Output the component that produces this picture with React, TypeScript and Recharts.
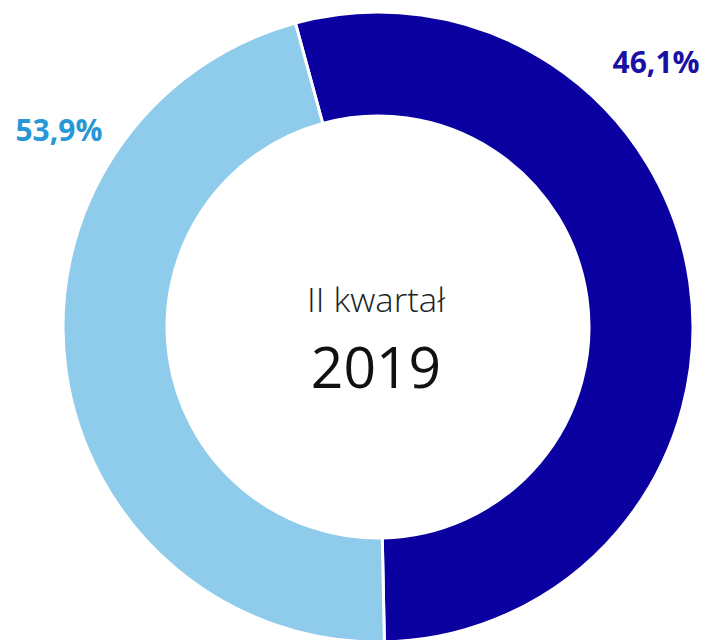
import React from "react";
import { PieChart, Pie, Cell, Customized } from "recharts";

// Data (arc sizes) and its printed labels
const segments = ["Ciemny", "Jasny"];
const shares = [53.9, 46.1];
const labelTexts = ["46,1%", "53,9%"];
const sliceColors = ["#0b00a0", "#8fcbeb"];
const labelColors = ["#1a10a4", "#2896d7"];
const centerTitle = "II kwartał";
const centerYear = "2019";

const data = segments.map((name, i) => ({ name, value: shares[i], label: labelTexts[i] }));

const W = 707;
const H = 640;
const CX = 378;
const CY = 327;
const START = 105.2;
const labelAngles = [43.6, 148.3];
const labelRadius = [384, 375];

const FONT = "'Open Sans', 'Noto Sans', sans-serif";

const renderLabel = (props: any) => {
  const { index } = props;
  const a = (labelAngles[index] * Math.PI) / 180;
  const x = CX + labelRadius[index] * Math.cos(a);
  const y = CY - labelRadius[index] * Math.sin(a);
  return (
    <text
      key={`lbl-${index}`}
      x={x}
      y={y + 11}
      textAnchor="middle"
      fill={labelColors[index]}
      fontFamily={FONT}
      fontWeight={700}
      fontSize={31}
      textLength={87}
      lengthAdjust="spacingAndGlyphs"
    >
      {labelTexts[index]}
    </text>
  );
};

const CenterText = () => (
  <g>
    <text x={CX - 2} y={312} textAnchor="middle" fill="#222" fontFamily={FONT} fontWeight={300} fontSize={33} textLength={138} lengthAdjust="spacingAndGlyphs">
      {centerTitle}
    </text>
    <text x={CX - 2} y={388} textAnchor="middle" fill="#111" fontFamily={FONT} fontWeight={400} fontSize={57}>
      {centerYear}
    </text>
  </g>
);

export default function App() {
  return (
    <div style={{ position: "absolute", left: 0, top: 0, width: W, height: H, background: "#fff" }}>
      <PieChart width={W} height={H} margin={{ top: 0, right: 0, bottom: 0, left: 0 }}>
        <Pie
          data={data}
          dataKey="value"
          nameKey="name"
          cx={CX}
          cy={CY}
          innerRadius={211}
          outerRadius={315}
          startAngle={START}
          endAngle={START - 360}
          stroke="#ffffff"
          strokeWidth={3}
          label={renderLabel}
          labelLine={false}
          isAnimationActive={false}
        >
          {data.map((d, i) => (
            <Cell key={d.name} fill={sliceColors[i]} />
          ))}
        </Pie>
        <Customized component={CenterText} />
      </PieChart>
    </div>
  );
}
